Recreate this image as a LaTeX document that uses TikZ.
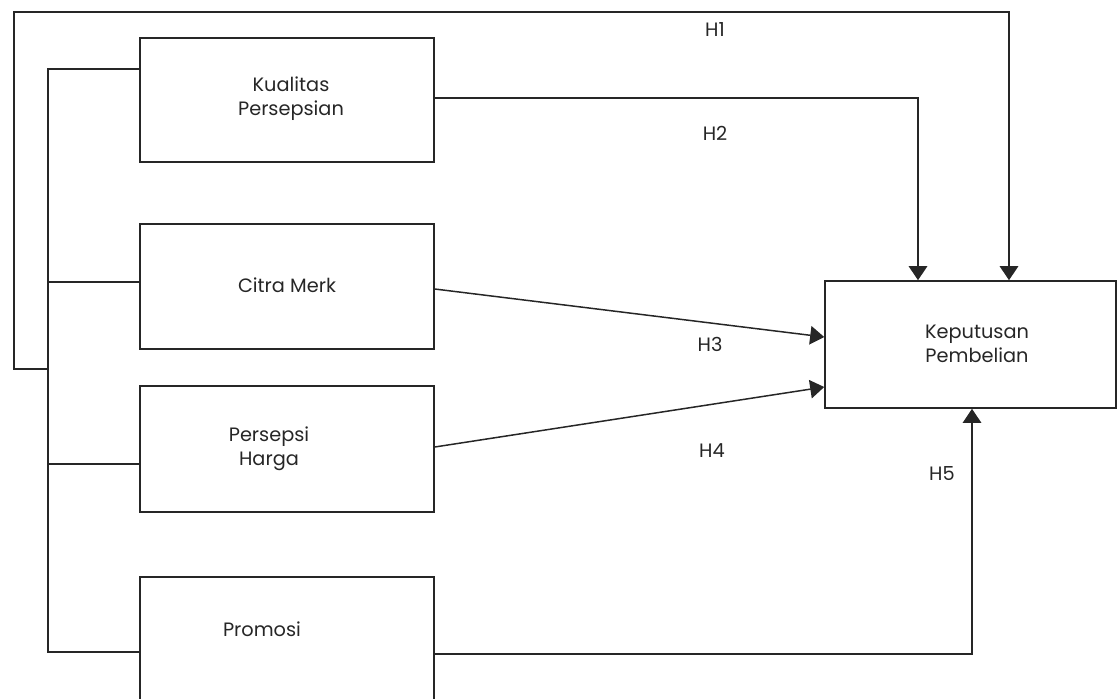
\documentclass[tikz,border=0pt]{standalone}
\usepackage{fontspec}
\setmainfont{Poppins}
\usetikzlibrary{arrows.meta,calc}
\begin{document}
\begin{tikzpicture}[x=0.02cm,y=-0.02cm,
  box/.style={draw=black!85,line width=0.9pt,inner sep=0pt},
  lbl/.style={font=\fontsize{11}{13.5}\selectfont,align=center,text=black!85,inner sep=0pt},
  conn/.style={draw=black!85,line width=0.85pt},
  arr/.style={conn,-{Triangle[width=10.5pt,length=8pt]}}]
\useasboundingbox (0,0) rectangle (1117,698);
\clip (0,0) rectangle (1117,698);
% boxes
\node[box,minimum width=5.88cm,minimum height=2.48cm] (kp) at (287,100) {};
\node[box,minimum width=5.88cm,minimum height=2.50cm] (cm) at (287,286.5) {};
\node[box,minimum width=5.88cm,minimum height=2.52cm] (ph) at (287,449) {};
\node[box,minimum width=5.88cm,minimum height=2.86cm] (pr) at (287,648.5) {};
\node[box,minimum width=5.82cm,minimum height=2.54cm] (kep) at (970.5,344.5) {};
% texts
\node[lbl] (tkp) at (291,99) {Kualitas\\Persepsian};
\node[lbl] (tcm) at (287,285) {Citra Merk};
\node[lbl] (tph) at (269,449) {Persepsi\\Harga};
\node[lbl] (tpr) at (262,629) {Promosi};
\node[lbl] (tkep) at (977,344) {Keputusan\\Pembelian};
% bracket
\coordinate (b1) at (48,69);
\coordinate (b2) at (48,282);
\coordinate (b3) at (48,464);
\coordinate (b4) at (48,652);
\coordinate (b5) at (48,369);
\draw[conn] (b1 -| kp.west) -- (b1) -- (b4) -- (b4 -| pr.west);
\draw[conn] (b2) -- (b2 -| cm.west);
\draw[conn] (b3) -- (b3 -| ph.west);
% H1 outer loop
\coordinate (o1) at (14,369);
\coordinate (o2) at (14,12);
\coordinate (o3) at (1009,12);
\draw[arr] (b5) -- (o1) -- (o2) -- (o3) -- (o3 |- kep.north);
% H2
\coordinate (h2a) at (918,98);
\draw[arr] (h2a -| kp.east) -- (h2a) -- (h2a |- kep.north);
% H3, H4
\draw[arr] ($(cm.east)+(0,2.5)$) -- ($(kep.west)+(0,-7.5)$);
\draw[arr] ($(ph.east)+(0,-2)$) -- ($(kep.west)+(0,42.5)$);
% H5
\coordinate (h5a) at (972,654);
\draw[arr] (h5a -| pr.east) -- (h5a) -- (h5a |- kep.south);
% labels
\node[lbl] (l1) at (715,30) {H1};
\node[lbl] (l2) at (715,133) {H2};
\node[lbl] (l3) at (710,344) {H3};
\node[lbl] (l4) at (712,451) {H4};
\node[lbl] (l5) at (942,474) {H5};
\end{tikzpicture}
\end{document}
